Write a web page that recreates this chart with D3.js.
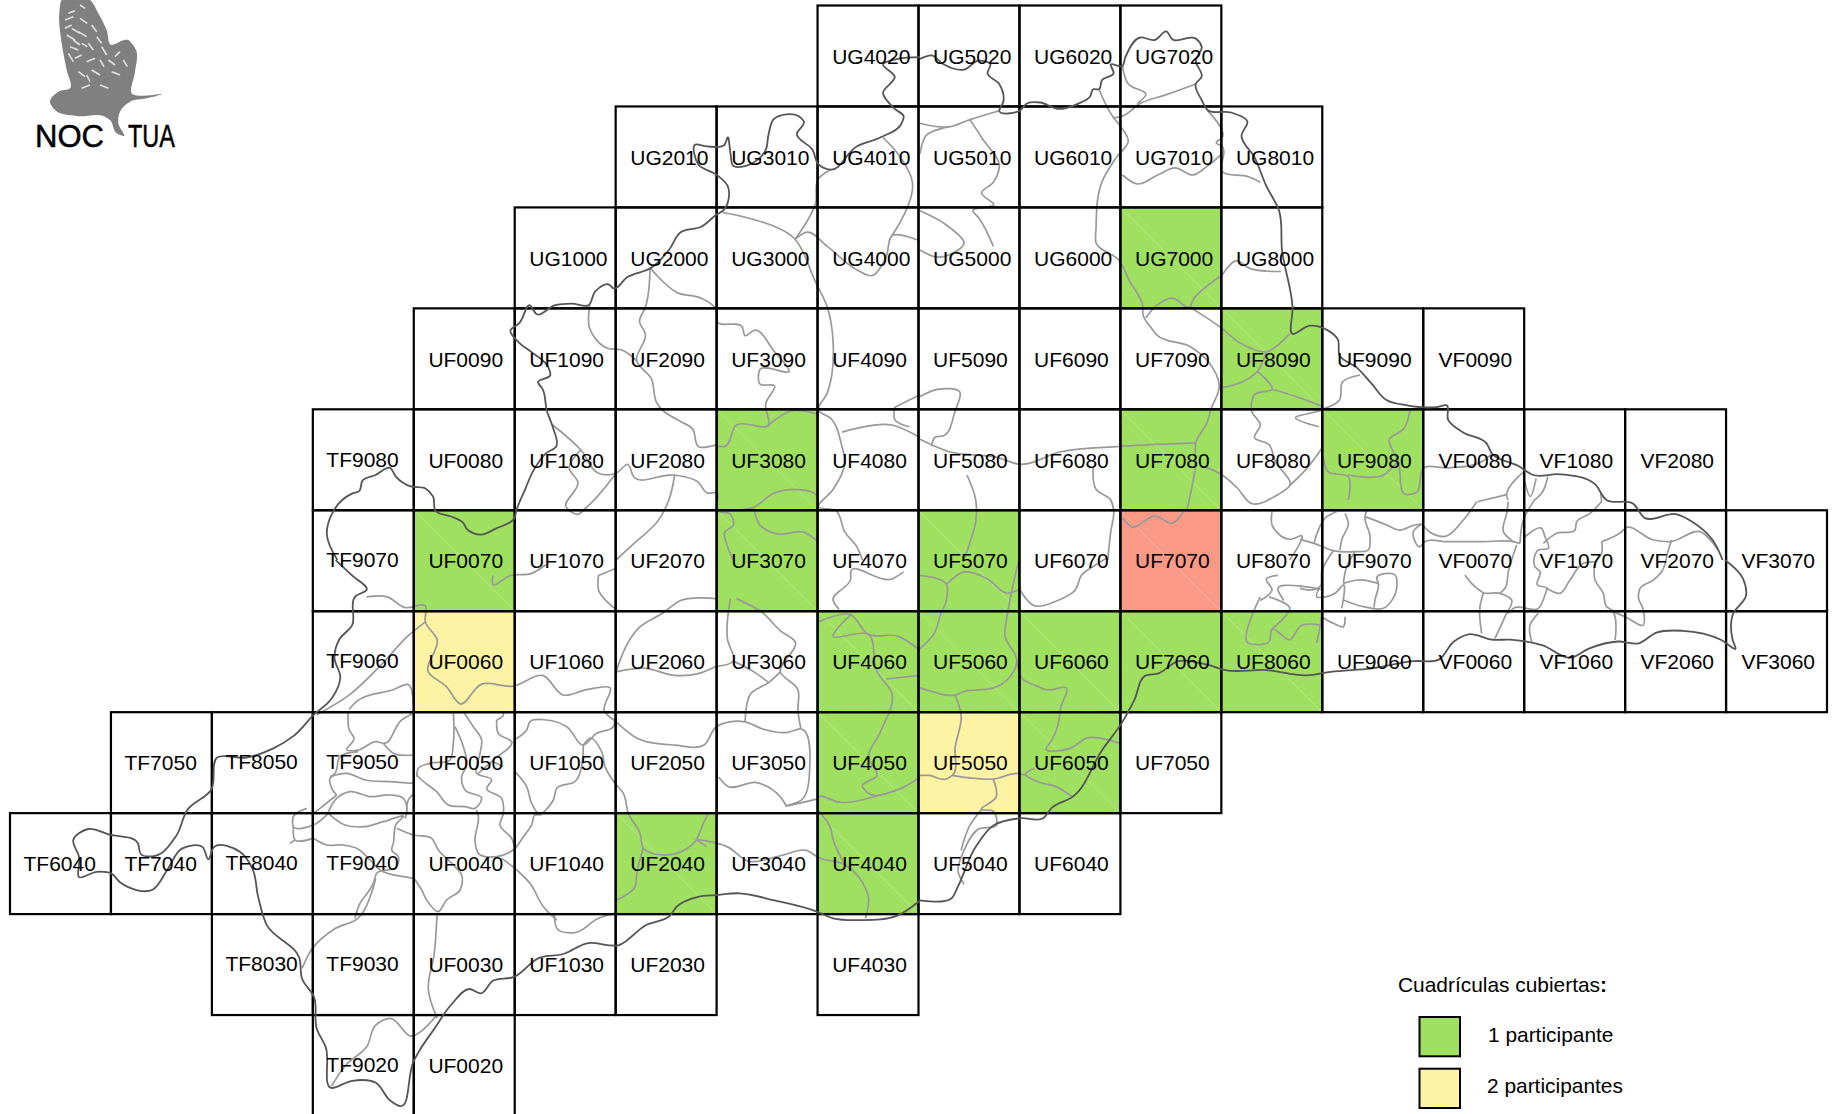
<!DOCTYPE html>
<html><head><meta charset="utf-8">
<script src="https://cdn.jsdelivr.net/npm/d3@7/dist/d3.min.js"></script>
<style>html,body{margin:0;padding:0;background:#fff}svg{display:block}text{font-family:"Liberation Sans",Arial,sans-serif;fill:#000}</style>
</head><body><svg id="c" width="1838" height="1114"></svg>
<script>
// ---------- grid sheets ----------
const rowsTop20=["UG4020","UG5020","UG6020","UG7020"];
const rowsTop10=["UG2010","UG3010","UG4010","UG5010","UG6010","UG7010","UG8010"];
const rowsTop00=["UG1000","UG2000","UG3000","UG4000","UG5000","UG6000","UG7000","UG8000"];
const row90=["UF0090","UF1090","UF2090","UF3090","UF4090","UF5090","UF6090","UF7090","UF8090","UF9090","VF0090"];
const row80=["TF9080","UF0080","UF1080","UF2080","UF3080","UF4080","UF5080","UF6080","UF7080","UF8080","UF9080","VF0080","VF1080","VF2080"];
const row70=["TF9070","UF0070","UF1070","UF2070","UF3070","UF4070","UF5070","UF6070","UF7070","UF8070","UF9070","VF0070","VF1070","VF2070","VF3070"];
const row60=["TF9060","UF0060","UF1060","UF2060","UF3060","UF4060","UF5060","UF6060","UF7060","UF8060","UF9060","VF0060","VF1060","VF2060","VF3060"];
const row50=["TF7050","TF8050","TF9050","UF0050","UF1050","UF2050","UF3050","UF4050","UF5050","UF6050","UF7050"];
const row40=["TF6040","TF7040","TF8040","TF9040","UF0040","UF1040","UF2040","UF3040","UF4040","UF5040","UF6040"];
const row30=["TF8030","TF9030","UF0030","UF1030","UF2030","UF4030"];
const row20=["TF9020","UF0020"];
const onePart=["UG7000","UF8090","UF3080","UF7080","UF9080","UF0070","UF3070","UF5070","UF4060","UF5060","UF6060","UF7060","UF8060","UF4050","UF6050","UF2040","UF4040"];
const twoPart=["UF0060","UF5050"];
const threePart=["UF7070"];
const legendLabels=["1 participante","2 participantes"];
const legendTitle="Cuadrículas cubiertas";

const darkNW=[[[575,1568],[557,1495],[568,1432],[583,1400],[600,1382],[612,1375],[618,1345],[640,1330],[665,1310],[675,1335],[700,1362],[725,1368],[738,1390],[742,1430],[770,1447],[790,1465],[795,1480],[820,1497],[845,1480],[877,1450],[880,1430],[895,1370],[910,1315],[930,1270],[948,1250],[942,1195],[932,1150],[925,1090],[917,1070],[938,1050],[935,1030],[905,985],[885,960],[870,925],[885,905],[903,855],[915,880],[945,855],[975,850],[1003,855],[1015,815],[1038,797],[1045,807],[1070,775],[1110,750],[1140,700],[1160,650],[1195,635],[1222,600],[1232,590],[1240,520],[1222,490],[1190,460],[1185,405],[1205,410],[1235,405],[1240,385],[1245,430],[1250,465],[1270,465],[1305,420],[1310,375],[1318,335],[1365,330],[1370,340],[1358,375],[1385,420],[1395,460],[1415,475],[1460,410],[1500,385],[1535,350],[1540,325],[1525,305],[1505,260],[1525,215],[1505,180],[1530,165],[1568,160]]];
const darkNE=[[[0,165],[20,155],[40,180],[75,195],[100,170],[120,180],[115,205],[135,235],[142,285],[135,310],[170,310],[182,290],[205,287],[235,305],[270,290],[290,270],[295,250],[305,250],[310,225],[330,205],[325,180],[345,185],[350,160],[375,105],[400,112],[420,88],[430,110],[470,108],[480,130],[470,170],[480,215],[470,235],[480,280],[490,308],[530,315],[558,340],[548,380],[570,440],[590,520],[612,590],[617,700],[635,860],[635,935],[665,912],[695,925],[712,950],[715,995],[745,1030],[770,1075],[795,1120],[830,1135],[880,1140],[898,1135],[900,1175],[925,1210],[965,1240],[975,1270],[1020,1305],[1045,1330],[1090,1328],[1150,1355],[1170,1400],[1215,1410],[1235,1450],[1290,1440],[1320,1465],[1350,1510],[1368,1568]]];
const darkSE=[[[1372,17],[1403,70],[1408,115],[1385,170],[1385,240],[1390,265],[1365,240],[1300,215],[1255,220],[1225,250],[1190,245],[1140,265],[1110,290],[1060,255],[1005,240],[975,240],[935,225],[910,245],[885,295],[840,300],[770,320],[700,330],[660,340],[590,325],[520,325],[490,310],[440,300],[405,335],[385,340],[365,410],[345,470],[310,550],[260,680],[225,710],[210,740],[170,740],[125,760],[95,820],[65,930],[55,962],[0,970]]];
const darkSW=[[[1568,970],[1530,1012],[1465,1025],[1420,1020],[1390,1000],[1320,970],[1260,950],[1220,955],[1190,960],[1155,985],[1140,1015],[1100,1040],[1055,1095],[1000,1090],[960,1120],[920,1130],[875,1185],[840,1195],[820,1230],[800,1218],[770,1260],[740,1330],[715,1390],[705,1420],[680,1545],[665,1530],[640,1480],[600,1475],[565,1495],[555,1380],[540,1330],[535,1240],[515,1190],[510,1130],[455,1040],[440,960],[430,880],[410,835],[365,820],[355,855],[345,820],[310,825],[285,885],[260,940],[205,920],[190,895],[165,890],[135,905],[135,850],[125,800],[150,770],[185,785],[235,810],[240,840],[265,845],[300,790],[320,715],[360,660],[370,570],[420,570],[465,545],[500,510],[535,450],[565,405],[580,345],[570,290],[578,240],[600,200],[605,120],[625,100],[600,60],[572,17]]];

const grayNW=[
[[1232,595],[1355,670],[1390,790],[1410,860],[1420,960],[1410,1100],[1395,1150],[1415,1170],[1435,1250],[1440,1290],[1420,1370],[1395,1420],[1425,1430],[1440,1490],[1460,1530],[1470,1568]],
[[1355,670],[1390,570],[1395,500],[1415,475]],
[[1355,670],[1375,650],[1410,690],[1460,755],[1485,772],[1510,720],[1520,660],[1568,675]],
[[1520,660],[1535,620],[1555,510],[1530,430],[1505,385]],
[[1108,750],[1100,860],[1090,900],[1100,935],[1085,1010],[1110,1060],[1120,1130],[1130,1150],[1160,1180],[1180,1200],[1190,1250],[1222,1245]],
[[1108,750],[1155,820],[1195,835],[1222,870],[1222,900],[1265,915],[1270,940],[1285,925],[1320,985],[1345,1040],[1295,1035],[1295,1075],[1320,1080],[1305,1130],[1310,1190],[1255,1190],[1235,1250],[1222,1250]],
[[1310,1190],[1350,1150],[1395,1160]],
[[1005,855],[1005,920],[1035,975],[1060,980],[1085,1010]],
[[942,1190],[990,1260],[1020,1325],[1050,1325],[1070,1300],[1080,1335],[1150,1330],[1190,1350],[1205,1380],[1222,1380],[1222,1430],[1245,1440],[1250,1470],[1235,1490],[1240,1530],[1250,1568]],
[[1050,1325],[1000,1420],[985,1440],[965,1420],[985,1350],[970,1310],[990,1260]],
[[1150,1330],[1140,1400],[1125,1450],[1075,1530],[1050,1568]],
[[1222,1430],[1285,1420],[1320,1380],[1350,1370],[1393,1390],[1393,1430]],
[[1285,1425],[1295,1470],[1325,1495],[1370,1490],[1393,1515]],
[[1435,1210],[1520,1190],[1568,1225]],
[[1525,1140],[1568,1105]],
[[1525,1140],[1525,1175],[1550,1195]]
];
const grayNE=[
[[305,250],[330,330],[340,350],[355,395],[335,440],[310,510],[300,640],[300,680],[340,730],[355,780],[380,860],[380,880],[395,920],[405,940],[460,970],[490,1010],[510,1080],[495,1150],[490,1180],[470,1240],[470,1300],[465,1350],[455,1428]],
[[345,185],[355,235],[385,265],[370,290]],
[[470,235],[420,265],[375,290],[345,325],[330,330]],
[[490,310],[515,385],[505,400],[515,410],[515,480],[560,495],[580,510]],
[[345,490],[370,515],[405,490],[435,470],[465,490],[490,465],[515,430]],
[[0,345],[50,355],[85,335],[135,310]],
[[85,335],[105,385],[135,470],[125,510],[105,540],[125,575],[115,580],[90,590],[100,610],[125,690]],
[[0,590],[45,630],[75,680],[30,720],[0,700]],
[[50,355],[10,380],[0,430]],
[[515,770],[540,730],[560,750],[615,760]],
[[515,770],[490,800],[465,840],[460,860],[430,835],[400,860],[385,890]],
[[460,860],[515,920],[545,960],[590,985],[630,935]],
[[590,985],[575,1040],[540,1075],[515,1085]],
[[575,1040],[600,1090],[570,1105],[565,1150],[580,1190],[570,1225],[595,1245],[605,1290],[630,1360],[610,1385],[565,1410],[540,1365],[515,1330],[490,1310],[480,1305]],
[[600,1090],[640,1110],[687,1145],[640,1170],[680,1195]],
[[750,1050],[720,1070],[715,1120],[687,1145]],
[[835,1150],[825,1200],[800,1230],[815,1290],[830,1385],[845,1380],[858,1310],[900,1310],[960,1290],[975,1270]],
[[687,1250],[660,1310],[630,1360]],
[[687,1280],[695,1320],[730,1335],[730,1400]],
[[730,1330],[790,1330],[815,1290]],
[[0,1230],[50,1265],[130,1280],[170,1300],[240,1265],[340,1250],[470,1240]],
[[0,1110],[30,1090],[68,1098],[60,1150],[40,1220],[25,1225],[20,1250]],
[[295,1310],[300,1370],[325,1400],[330,1428],[325,1490],[320,1568]],
[[80,1330],[95,1400],[95,1460],[85,1520],[75,1568]],
[[345,1450],[360,1475],[400,1445],[430,1465],[450,1430]],
[[600,1430],[600,1470],[630,1510],[650,1500],[630,1568]],
[[1030,1345],[1040,1390],[1050,1340]],
[[1070,1335],[1060,1380],[1045,1404]],
[[1000,1385],[950,1405]],
[[1030,1320],[1000,1390],[1002,1400]],
[[1160,1380],[1162,1405]]
];
const graySW=[
[[625,120],[660,120],[690,150],[725,145],[725,190],[745,240],[730,330],[760,370],[785,420],[820,365],[875,370],[925,340],[960,395],[1000,380],[1040,375],[1030,440],[1050,470],[1085,515],[1150,535],[1200,535],[1220,485],[1270,470],[1300,490],[1340,500],[1365,490],[1380,600],[1365,690],[1340,705],[1395,685]],
[[725,190],[695,230],[650,310],[595,395],[540,450]],
[[595,435],[610,410],[670,380],[695,365],[705,440]],
[[1050,330],[1075,235],[1090,205],[1130,165],[1160,130],[1220,125]],
[[1245,125],[1240,240],[1250,300],[1220,315]],
[[1255,125],[1300,165],[1330,215],[1355,245],[1330,330],[1360,380],[1360,440],[1365,490]],
[[1330,330],[1310,360],[1280,390],[1270,470]],
[[1250,300],[1285,330],[1310,360]],
[[1050,330],[1100,320],[1150,340],[1190,335],[1220,315]],
[[1225,625],[1240,650],[1290,640],[1330,680],[1340,705]],
[[1222,700],[1222,490]],
[[1190,800],[1240,820],[1275,860],[1330,845],[1375,830],[1395,850],[1440,870],[1470,920],[1480,960],[1475,1020]],
[[640,910],[635,940],[610,1020],[570,1050],[530,1110],[515,1160]],
[[745,1005],[740,1120],[730,1220],[745,1300]],
[[945,1010],[950,1050],[980,1060],[1020,1020],[1050,1005]],
[[745,1290],[700,1350],[665,1300],[640,1320],[625,1380],[590,1430],[565,1490]],
[[1395,720],[1415,765],[1420,800],[1440,870]],
[[1395,190],[1450,170],[1480,225],[1530,230],[1568,270]],
[[1450,170],[1420,230],[1480,225],[1495,330],[1520,390],[1500,500],[1480,570],[1495,620],[1470,650],[1480,670],[1530,660],[1568,625]],
[[1395,720],[1395,680],[1430,695],[1500,675],[1530,660]],
[[1510,350],[1568,340]],
[[1430,155],[1420,130],[1450,70],[1450,50],[1520,70],[1540,50]],
[[1020,60],[1050,40]],
[[1020,60],[1020,100],[1050,155]],
[[840,60],[840,85],[870,60],[905,55],[930,30]]
];
const graySE=[
[[0,60],[45,85],[45,130],[35,170],[25,220],[0,265]],
[[45,85],[75,50],[115,70],[150,110],[168,100]],
[[168,20],[150,160],[145,230],[165,300],[150,350],[125,375],[105,380],[75,385],[60,395],[20,385],[0,375]],
[[60,395],[70,450],[60,540],[55,620],[45,630],[15,620],[0,620]],
[[55,620],[125,630],[170,615],[180,620]],
[[125,630],[130,680],[105,715],[125,720],[130,760],[100,770],[75,830],[65,890],[75,925]],
[[105,715],[85,760],[70,830]],
[[165,300],[175,350],[200,370],[215,380],[250,375],[240,430],[235,480],[225,520],[215,545],[255,545],[285,515],[340,530]],
[[195,600],[180,615],[205,640],[230,650],[260,680]],
[[170,100],[195,145],[235,130],[265,100],[275,60],[300,30],[320,10]],
[[580,120],[560,250],[595,245],[600,210],[630,240],[650,200],[685,200]],
[[595,120],[630,150],[600,210]],
[[610,60],[590,70],[600,100],[580,130]],
[[620,130],[610,100],[685,100]]
];
const grayEast=[
[[0,118],[42,130],[100,152],[165,155],[205,150],[210,110],[195,50],[200,30]],
[[42,130],[80,50],[110,35]],
[[135,40],[145,70],[125,120],[120,150]],
[[195,50],[260,75],[295,90],[345,75],[365,72]],
[[100,152],[65,215],[60,260],[35,270],[0,265]],
[[60,260],[50,290],[80,290],[105,280],[130,255],[125,325]],
[[130,300],[190,320],[250,325],[290,265],[285,225],[230,235],[235,250],[225,300],[222,322]],
[[130,250],[175,240],[235,250]],
[[165,155],[140,200],[130,250]],
[[365,72],[340,95],[360,140],[375,125],[440,125],[550,125],[640,125],[660,130]],
[[365,72],[395,100],[430,110],[490,60],[530,5]],
[[650,135],[625,215],[615,265],[600,280]],
[[495,225],[510,245],[525,260],[550,278],[600,280],[635,300],[615,350],[585,415]],
[[550,280],[540,320],[545,400]],
[[625,5],[620,40],[610,95],[640,125]],
[[660,130],[670,60],[700,5]],
[[670,115],[725,85],[735,110],[745,145],[715,150],[705,200],[720,215],[712,255],[740,265],[735,285],[715,325],[640,325],[625,340]],
[[730,130],[770,100],[825,90],[830,65],[870,40],[905,5]],
[[740,265],[780,280],[810,240],[850,190],[885,185]],
[[885,185],[885,240],[910,280],[920,320],[935,330],[945,420]],
[[905,125],[905,160],[885,185]],
[[905,125],[965,95],[975,85],[1060,120],[1110,125],[1200,95],[1255,150]],
[[1115,120],[1105,150],[1085,215],[1060,240],[1020,265],[1015,290],[1030,330],[1030,375],[975,350],[940,335]],
[[715,340],[690,375],[695,425]],
[[65,350],[100,370],[130,380],[135,350]],
[[50,430],[60,380],[65,340]]
];
const graySouthWest=[
[[175,5],[178,60],[192,85],[170,120],[205,120],[260,95],[280,100],[335,30],[370,10]],
[[205,125],[150,140],[135,190],[120,205],[125,235],[140,255]],
[[120,200],[170,190],[225,210],[300,215],[370,220]],
[[280,100],[310,130],[370,135]],
[[115,305],[140,265],[180,245],[240,260],[300,255],[340,265],[350,310],[345,325]],
[[350,300],[355,270],[372,250]],
[[115,310],[165,345],[225,350],[280,335],[340,320],[320,340],[310,400],[305,420],[325,440],[320,470],[260,490],[250,520],[235,545],[210,580],[195,625]],
[[70,385],[110,405],[160,405],[200,415],[240,450],[270,480],[340,500],[372,505]],
[[320,355],[370,375],[425,385],[445,420],[495,470],[515,495],[510,540],[470,570],[445,605],[410,570],[395,540],[372,505]],
[[50,295],[10,320],[10,350],[70,345],[115,310]],
[[10,350],[15,390],[70,385]],
[[0,400],[15,390]],
[[140,255],[90,295],[70,310]],
[[490,5],[490,100],[480,150],[420,160],[385,175],[380,200]],
[[495,50],[520,110],[530,165],[515,200],[525,240],[575,265],[555,295],[525,290],[475,285],[440,245],[395,210],[380,195]],
[[520,5],[550,50],[575,90],[570,130],[560,190],[605,210],[590,235],[635,265],[640,310],[630,345],[665,385],[675,415]],
[[620,30],[625,70],[665,95],[610,150],[565,190]],
[[620,30],[640,15],[640,5]],
[[640,170],[610,155]],
[[560,300],[565,320],[555,395],[565,430],[620,440],[675,415],[700,380],[725,345],[735,315],[755,315]],
[[635,445],[680,480],[720,520],[760,590],[800,630]],
[[672,90],[710,60],[720,35],[770,30],[830,50],[880,105],[920,70],[970,50],[975,20]],
[[880,105],[900,85],[935,125],[945,170],[975,220],[1000,250],[1015,310],[1050,370],[1060,415],[1120,435],[1160,430],[1215,395],[1240,340],[1255,310]],
[[675,185],[710,230],[725,280],[745,310],[790,270],[800,235],[855,215],[880,105]],
[[1220,390],[1250,410]],
[[980,570],[1035,530],[1040,490],[1060,415]]
];
// ---------- logo ----------
const owlOutline=[[185,0],[178,40],[185,130],[200,210],[210,265],[175,275],[150,305],[165,330],[230,348],[315,350],[330,360],[350,400],[372,408],[355,370],[360,335],[390,305],[440,295],[485,283],[395,280],[405,215],[408,150],[395,130],[385,120],[365,122],[350,130],[335,135],[320,90],[295,40],[270,0]];
const owlSpeckle=[[[205,40],[225,32]],[[195,60],[220,50]],[[240,15],[255,25]],[[195,85],[215,75]],[[240,55],[262,70]],[[200,105],[225,120]],[[235,95],[260,110]],[[275,75],[290,95]],[[210,140],[235,150]],[[265,130],[280,150]],[[305,140],[320,165]],[[225,175],[245,165]],[[260,185],[285,175]],[[325,180],[345,195]],[[235,215],[255,230]],[[275,210],[300,225]],[[335,215],[360,225]],[[245,265],[270,255]],[[300,255],[325,265]],[[370,180],[382,200]],[[215,85],[240,100]],[[245,130],[262,140]],[[220,120],[240,135]],[[290,110],[305,130]],[[260,225],[270,245]],[[205,160],[220,185]],[[300,180],[312,200]],[[345,170],[360,155]]];

// ---------- drawing ----------
const svg=d3.select("#c");
const defs=svg.append("defs");
defs.append("filter").attr("id","soft").append("feGaussianBlur").attr("stdDeviation",0.7);
const colX=d3.scaleLinear().domain([0,18]).range([10,1827]);
const rowY=d3.scaleLinear().domain([0,11]).range([5.5,1116]);
const zones=["TF60","TF70","TF80","TF90","UF00","UF10","UF20","UF30","UF40","UF50","UF60","UF70","UF80","UF90","VF00","VF10","VF20","VF30"];
const northings=["UG20","UG10","UG00","UF90","UF80","UF70","UF60","UF50","UF40","UF30","UF20"];
const cells=[rowsTop20,rowsTop10,rowsTop00,row90,row80,row70,row60,row50,row40,row30,row20].flat().map(n=>{
  const pre=n.slice(0,2), e=n[2], no=n.slice(4,6);
  const colName=(pre==="UG"?"UF":pre)+e+"0";
  const rowName=(pre==="UG"?"UG":"UF")+no;
  return {n,pre,col:zones.indexOf(colName),row:northings.indexOf(rowName)};
});
const fillOf=n=>onePart.includes(n)?"#a0e060":twoPart.includes(n)?"#fdf3a2":threePart.includes(n)?"#fa9986":"#fff";
const cw=colX(1)-colX(0), ch=rowY(1)-rowY(0);

svg.append("g").selectAll("rect").data(cells).join("rect")
 .attr("x",d=>colX(d.col)).attr("y",d=>rowY(d.row)).attr("width",cw).attr("height",ch)
 .attr("fill",d=>fillOf(d.n));
svg.append("g").selectAll("line").data(cells.filter(d=>fillOf(d.n)!=="#fff")).join("line")
 .attr("x1",d=>colX(d.col)).attr("y1",d=>rowY(d.row)).attr("x2",d=>colX(d.col+1)).attr("y2",d=>rowY(d.row+1))
 .attr("stroke","#fff").attr("stroke-opacity",.22).attr("stroke-width",1);

function sheet(ox,oy,dw=1568,dh=1568,w=920,h=560){
  const x=d3.scaleLinear().domain([0,dw]).range([ox,ox+w]);
  const y=d3.scaleLinear().domain([0,dh]).range([oy,oy+h]);
  return d3.line().x(d=>x(d[0])).y(d=>y(d[1])).curve(d3.curveCatmullRom.alpha(1));
}
const sNW=sheet(0,0),sNE=sheet(920,0),sSW=sheet(0,554),sSE=sheet(920,554);
const sEast=sheet(1300,500,1260,600,420,200), sSWd=sheet(290,710,1260,630,420,210);
function draw(list,gen,col,w){
  svg.append("g").selectAll("path").data(list).join("path").attr("d",gen)
   .attr("fill","none").attr("stroke",col).attr("stroke-width",w).attr("stroke-linejoin","round");
}
draw(grayNW,sNW,"#999",1.7);draw(grayNE,sNE,"#999",1.7);draw(graySW,sSW,"#999",1.7);draw(graySE,sSE,"#999",1.7);
draw(grayEast,sEast,"#999",1.7);draw(graySouthWest,sSWd,"#999",1.7);

svg.append("g").selectAll("rect").data(cells).join("rect")
 .attr("x",d=>colX(d.col)).attr("y",d=>rowY(d.row)).attr("width",cw).attr("height",ch)
 .attr("fill","none").attr("stroke","#000").attr("stroke-width",2.2);

draw(darkNW,sNW,"#555",1.8);draw(darkNE,sNE,"#555",1.8);draw(darkSE,sSE,"#555",1.8);draw(darkSW,sSW,"#555",1.8);

const dx={TF:13.5,UF:14.6,UG:14.6,VF:15.4};
svg.append("g").selectAll("text").data(cells).join("text")
 .attr("x",d=>colX(d.col)+dx[d.pre]).attr("y",d=>rowY(d.row)+(d.pre==="TF"&&d.col>=2?57.2:58.2))
 .attr("font-size",21).text(d=>d.n);

// legend
const title=svg.append("text").attr("x",1398).attr("y",992).attr("font-size",20.9).text(legendTitle);
title.append("tspan").attr("font-weight","bold").text(":");
const legY=d3.scaleBand().domain(legendLabels).range([1017,1108]).paddingInner(.24);
const legCol=d3.scaleOrdinal().domain(legendLabels).range(["#a0e060","#fdf3a2"]);
svg.append("g").selectAll("rect").data(legendLabels).join("rect")
 .attr("x",1419.5).attr("y",d=>legY(d)).attr("width",40.5).attr("height",legY.bandwidth())
 .attr("fill",d=>legCol(d)).attr("stroke","#000").attr("stroke-width",2);
svg.append("g").selectAll("text").data(legendLabels).join("text")
 .attr("x",(d,i)=>i?1487:1488).attr("y",(d,i)=>legY(d)+legY.bandwidth()/2+(i?4.5:5.5)).attr("font-size",20.9).text(d=>d);

// logo
const lx=d3.scaleLinear().domain([0,660]).range([0,220]), ly=d3.scaleLinear().domain([0,510]).range([0,170]);
const lg=d3.line().x(d=>lx(d[0])).y(d=>ly(d[1]));
const logo=svg.append("g").attr("filter","url(#soft)");
logo.append("path").attr("d",d3.line().x(d=>lx(d[0])).y(d=>ly(d[1])).curve(d3.curveCatmullRomClosed.alpha(1))(owlOutline)).attr("fill","#808080");
logo.append("g").selectAll("path").data(owlSpeckle).join("path").attr("d",lg)
 .attr("stroke","#e0e0e0").attr("stroke-width",1.6).attr("fill","none");
svg.append("text").attr("x",35).attr("y",147).attr("font-size",32).attr("textLength",69).attr("lengthAdjust","spacingAndGlyphs").attr("stroke","#000").attr("stroke-width",.5).text("NOC");
svg.append("text").attr("x",128).attr("y",147).attr("font-size",32).attr("textLength",47).attr("lengthAdjust","spacingAndGlyphs").attr("stroke","#000").attr("stroke-width",.5).text("TUA");
</script></body></html>
